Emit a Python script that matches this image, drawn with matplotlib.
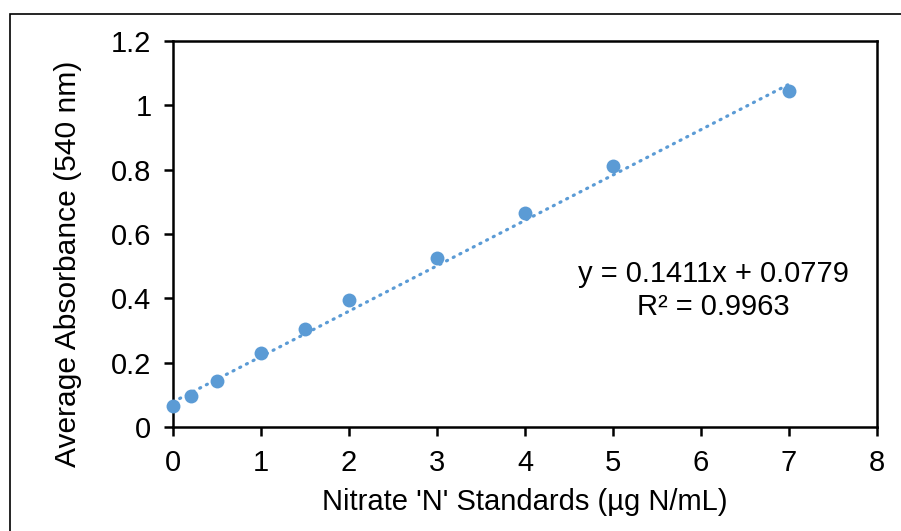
import matplotlib
matplotlib.use("Agg")
import matplotlib.pyplot as plt
from matplotlib.patches import Rectangle
import numpy as np

plt.rcParams['font.family'] = ['Liberation Sans', 'DejaVu Sans']

# Nitrate standard concentrations and measured absorbance
conc = [0, 0.2, 0.5, 1, 1.5, 2, 3, 4, 5, 7]
absorbance = [0.065, 0.097, 0.143, 0.231, 0.305, 0.396, 0.524, 0.664, 0.810, 1.044]

# Linear trendline coefficients
slope = 0.1411
intercept = 0.0779
r_squared = 0.9963

x_ticks = [0, 1, 2, 3, 4, 5, 6, 7, 8]
y_ticks = [0, 0.2, 0.4, 0.6, 0.8, 1.0, 1.2]
y_tick_labels = ['0', '0.2', '0.4', '0.6', '0.8', '1', '1.2']

color = '#5B9BD5'
fs = 21

fig = plt.figure(figsize=(9.01, 5.31), dpi=100)
ax = fig.add_axes([173 / 901, 104 / 531, 704 / 901, 386 / 531])

# outer chart border (only top and left edges fall inside the image)
fig.patches.append(Rectangle((10 / 901, -0.1), 1.2, (531 - 14) / 531 + 0.1,
                             transform=fig.transFigure, fill=False,
                             edgecolor='black', linewidth=1.2))

xt = np.array([min(conc), max(conc)])
ax.plot(xt, slope * xt + intercept, color=color, linewidth=2.3,
        linestyle=(0, (0.35, 2.0)), dash_capstyle='round', zorder=2)
ax.plot(conc, absorbance, 'o', color=color, markersize=10,
        markeredgewidth=0, zorder=3, clip_on=False)

ax.set_xlim(0, 8)
ax.set_ylim(0, 1.2)
ax.set_xticks(x_ticks)
ax.set_yticks(y_ticks)
ax.set_yticklabels(y_tick_labels)
ax.tick_params(direction='out', length=6.5, width=1.8, labelsize=fs, pad=9,
               colors='black')
for s in ax.spines.values():
    s.set_linewidth(1.8)

ax.set_xlabel("Nitrate 'N' Standards (\u00b5g N/mL)", fontsize=fs, labelpad=8)
ax.set_ylabel('Average Absorbance (540 nm)', fontsize=21.6)
ax.yaxis.set_label_coords(-0.129, 0.4236)

ax.text(6.14, 0.424, f'y = {slope}x + {intercept}\nR\u00b2 = {r_squared}',
        fontsize=fs, ha='center', va='center', linespacing=1.25)

fig.savefig('out.png', dpi=100)
